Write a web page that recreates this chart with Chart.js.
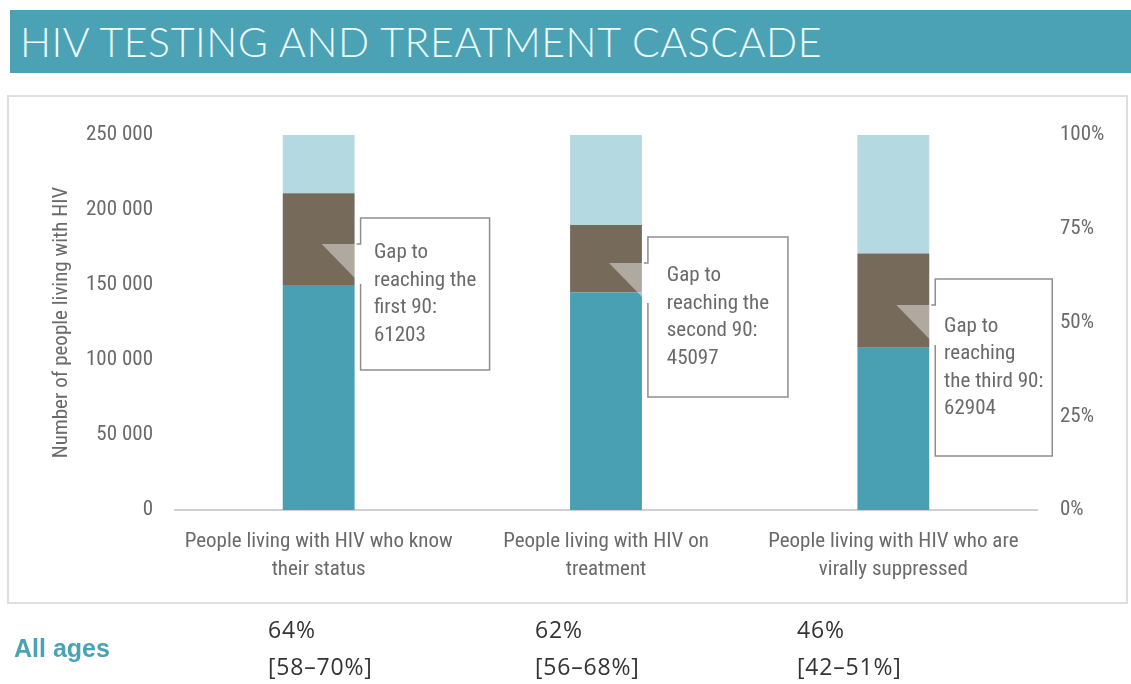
<!DOCTYPE html>
<html>
<head>
<meta charset="utf-8">
<title>HIV testing and treatment cascade</title>
<script src="https://cdn.jsdelivr.net/npm/chart.js@4.4.1/dist/chart.umd.min.js"></script>
<style>
  body { margin: 0; width: 1131px; height: 684px; background: #fff; position: relative; overflow: hidden; }
  .title-bar { position: absolute; left: 10px; top: 10px; width: 1121px; height: 63px; background: #4ba2b4;
               display: flex; align-items: center; }
  .title-bar h1 { margin: 0 0 0 10px; font: 300 41px Lato, "Open Sans", sans-serif; letter-spacing: 0.6px;
                  color: #eefcff; white-space: nowrap; }
  .panel { position: absolute; left: 7px; top: 95px; width: 1121px; height: 509px; border: 2px solid #dedede; box-sizing: border-box; }
  .chart-wrap { position: absolute; left: 0; top: 0; width: 1131px; height: 684px; }
  .age-label { position: absolute; left: 14px; top: 633px; font: bold 25px/30px "Liberation Sans", Arial, sans-serif; color: #4aa3b5; }
  .pct { position: absolute; top: 611px; font: 23px/37px "Open Sans", sans-serif; letter-spacing: 0.8px; color: #333; }
</style>
</head>
<body>
<div class="title-bar"><h1>HIV TESTING AND TREATMENT CASCADE</h1></div>
<div class="panel"></div>
<div class="chart-wrap"><canvas id="cascade" width="1131" height="684"></canvas></div>
<div class="age-label">All ages</div>
<div id="pcts"></div>
<script>
const categories = [
    ["People living with HIV who know", "their status"],
    ["People living with HIV on", "treatment"],
    ["People living with HIV who are", "virally suppressed"]
];
const reached = [150000, 144986, 108170];
const gapTo90 = [61203, 45097, 62904];
const remaining = [38797, 59917, 78926];
const leftTicks = [0, 50000, 100000, 150000, 200000, 250000];
const rightTicks = [0, 25, 50, 75, 100];
const percentAll = ["64%", "62%", "46%"];
const percentRange = ["[58–70%]", "[56–68%]", "[42–51%]"];
const calloutLines = [
    ["Gap to", "reaching the", "first 90:"],
    ["Gap to", "reaching the", "second 90:"],
    ["Gap to", "reaching", "the third 90:"]
];

// callout box placement: top/bottom in axis units, width in pixels
const calloutLayout = [
    { top: 194700, bottom: 93300, width: 129 },
    { top: 182000, bottom: 75300, width: 140 },
    { top: 154000, bottom: 36000, width: 117 }
];
const pctLeft = [268, 535, 797];

const narrow = '"Roboto Condensed", "DejaVu Sans Condensed", sans-serif';
const greyText = "#6a6a6a";

document.getElementById("pcts").innerHTML = percentAll.map((p, i) =>
    `<div class="pct" style="left:${pctLeft[i]}px">${p}<br>${percentRange[i]}</div>`
).join("");

function fmtThousands(v) {
    return String(v).replace(/\B(?=(\d{3})+(?!\d))/g, " ");
}

const gapCallouts = {
    id: "gapCallouts",
    afterDatasetsDraw(chart) {
        const ctx = chart.ctx;
        const y = chart.scales.y;
        const bars = chart.getDatasetMeta(1).data;
        ctx.save();
        calloutLayout.forEach((box, i) => {
            const bar = bars[i];
            const left = bar.x + bar.width / 2 + 6;
            const right = left + box.width;
            const top = y.getPixelForValue(box.top);
            const bottom = y.getPixelForValue(box.bottom);
            const tipY = top + 26;
            const tipX = bar.x + 3;

            ctx.fillStyle = "#fff";
            ctx.fillRect(left, top, box.width, bottom - top);

            // pointer into the gap segment
            ctx.beginPath();
            ctx.moveTo(tipX, tipY);
            ctx.lineTo(left, tipY);
            ctx.lineTo(left, tipY + 40);
            ctx.closePath();
            ctx.fillStyle = "rgba(255,255,255,0.42)";
            ctx.fill();

            ctx.beginPath();
            ctx.moveTo(left - 4, tipY);
            ctx.lineTo(left, tipY);
            ctx.lineTo(left, top);
            ctx.lineTo(right, top);
            ctx.lineTo(right, bottom);
            ctx.lineTo(left, bottom);
            ctx.lineTo(left, tipY + 40);
            ctx.strokeStyle = "#8e8e8e";
            ctx.lineWidth = 1.5;
            ctx.stroke();

            const lines = calloutLines[i].concat(String(gapTo90[i]));
            ctx.font = "21px " + narrow;
            ctx.fillStyle = greyText;
            ctx.textAlign = "left";
            ctx.textBaseline = "middle";
            const widest = Math.max(...lines.map(t => ctx.measureText(t).width));
            const tx = (left + right) / 2 - widest / 2;
            const lh = 27.5;
            const cy = (top + bottom) / 2 - (lines.length - 1) * lh / 2;
            lines.forEach((t, k) => ctx.fillText(t, tx, cy + k * lh));
        });
        ctx.restore();
    }
};

new Chart(document.getElementById("cascade"), {
    type: "bar",
    data: {
        labels: categories,
        datasets: [
            { label: "Reached", data: reached, backgroundColor: "#48a0b2" },
            { label: "Gap to 90", data: gapTo90, backgroundColor: "#766b5b" },
            { label: "Remaining", data: remaining, backgroundColor: "#b4d9e1" }
        ]
    },
    options: {
        responsive: false,
        animation: false,
        categoryPercentage: 1,
        barPercentage: 0.25,
        layout: { padding: { top: 135, left: 0, right: 0, bottom: 0 } },
        plugins: { legend: { display: false }, tooltip: { enabled: false } },
        scales: {
            x: {
                stacked: true,
                grid: { display: false, drawTicks: false },
                border: { display: true, color: "#d0d0d0", width: 2 },
                ticks: {
                    padding: 18,
                    maxRotation: 0,
                    autoSkip: false,
                    color: greyText,
                    font: { family: narrow, size: 21, lineHeight: "28px" }
                },
                afterFit(s) { s.height = 174; }
            },
            y: {
                stacked: true,
                position: "left",
                min: 0,
                max: 250000,
                afterBuildTicks(s) { s.ticks = leftTicks.map(v => ({ value: v })); },
                grid: { display: false, drawTicks: false },
                border: { display: false },
                ticks: {
                    padding: 22,
                    color: greyText,
                    font: { family: narrow, size: 21 },
                    callback: v => fmtThousands(v)
                },
                title: {
                    display: true,
                    text: "Number of people living with HIV",
                    color: greyText,
                    font: { family: narrow, size: 21 },
                    padding: { top: 49 }
                },
                afterFit(s) { s.width = 175; }
            },
            pct: {
                position: "right",
                min: 0,
                max: 100,
                afterBuildTicks(s) { s.ticks = rightTicks.map(v => ({ value: v })); },
                grid: { display: false, drawTicks: false },
                border: { display: false },
                ticks: {
                    padding: 23,
                    color: greyText,
                    font: { family: narrow, size: 21 },
                    callback: v => v + "%"
                },
                afterFit(s) { s.width = 94; }
            }
        }
    },
    plugins: [gapCallouts]
});
</script>
</body>
</html>
